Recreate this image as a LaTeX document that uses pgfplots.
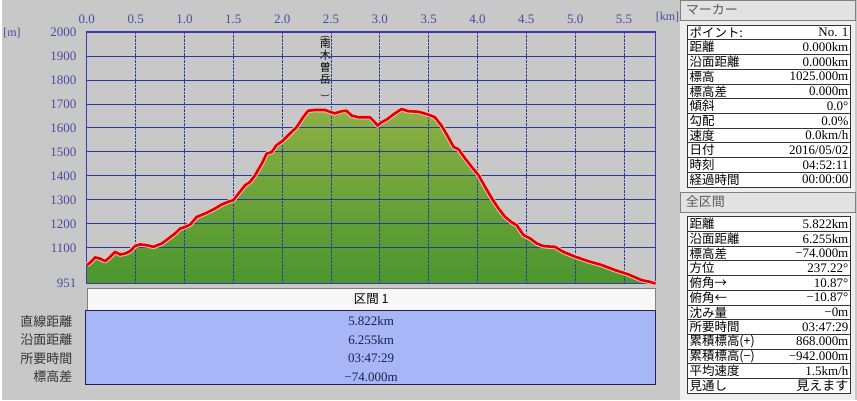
\documentclass[border=0pt]{standalone}
\usepackage{pgfplots}
\pgfplotsset{compat=1.18}
\usepackage{pgfplotstable}
\usepackage{fontspec}
\setmainfont{Liberation Serif}
\newfontfamily\jp{Noto Sans CJK JP}

\definecolor{bg}{HTML}{C8C8C8}
\definecolor{plotbg}{HTML}{DCDCDC}
\definecolor{gridc}{HTML}{2A3A9C}
\definecolor{framec}{HTML}{3A3AA8}
\definecolor{tickc}{HTML}{4B4BA0}
\definecolor{greentop}{HTML}{8DB045}
\definecolor{greenbot}{HTML}{4A962E}
\definecolor{redline}{HTML}{E00000}
\definecolor{redhalo}{HTML}{FFB8B8}
\definecolor{bluebox}{HTML}{A6B6F6}
\definecolor{valc}{HTML}{202048}
\definecolor{cellb}{HTML}{333333}
\definecolor{panelbg}{HTML}{EEEEEE}
\definecolor{headbg}{HTML}{E2E2E2}

\pgfplotstableread{
km elev
0.000 1028
0.040 1040
0.085 1060
0.136 1055
0.188 1044
0.239 1062
0.290 1083
0.341 1072
0.392 1076
0.444 1086
0.495 1108
0.546 1114
0.614 1111
0.682 1104
0.768 1118
0.836 1139
0.904 1160
0.955 1180
1.006 1187
1.058 1197
1.126 1229
1.211 1243
1.314 1264
1.382 1281
1.450 1292
1.501 1299
1.552 1326
1.621 1361
1.672 1375
1.723 1403
1.791 1451
1.842 1493
1.894 1500
1.942 1528
2.010 1548
2.078 1576
2.147 1603
2.215 1645
2.266 1672
2.334 1675
2.437 1675
2.498 1666
2.539 1661
2.608 1670
2.659 1672
2.710 1652
2.778 1645
2.898 1645
2.949 1624
2.976 1610
3.017 1624
3.068 1634
3.137 1656
3.222 1679
3.290 1670
3.392 1668
3.495 1656
3.563 1645
3.631 1610
3.703 1560
3.755 1521
3.806 1511
3.874 1472
3.942 1437
4.010 1403
4.078 1354
4.147 1306
4.215 1264
4.283 1229
4.351 1206
4.402 1194
4.470 1153
4.539 1139
4.607 1118
4.675 1107
4.794 1104
4.879 1083
4.999 1063
5.135 1044
5.272 1028
5.408 1007
5.544 989
5.681 965
5.766 958
5.822 951
}\profile

\newcommand{\trow}[4]{%
  \pgfmathsetmacro\ytop{#1-#2*14.75}%
  \pgfmathsetmacro\ybot{\ytop-14.75}%
  \pgfmathsetmacro\ymid{\ytop-7.375}%
  \draw[cellb, fill=white, line width=0.8pt] (687,\ytop) rectangle (850,\ybot);
  \node[anchor=west, inner sep=0pt, font=\jp\fontsize{12.5}{12.5}\selectfont] at (689,\ymid) {#3};
  \node[anchor=east, inner sep=0pt, font=\fontsize{13}{13}\selectfont] at (848.5,\ymid) {#4};
}

\begin{document}
\begin{tikzpicture}
\fill[bg] (0pt,0pt) rectangle (857pt,401pt);

\begin{axis}[
  set layers, axis on top,
  at={(85pt,117pt)}, anchor=south west,
  scale only axis, width=570pt, height=252pt,
  xmin=0, xmax=5.822, ymin=951, ymax=2000,
  xtick={0,0.5,1,1.5,2,2.5,3,3.5,4,4.5,5,5.5},
  xticklabels={0.0,0.5,1.0,1.5,2.0,2.5,3.0,3.5,4.0,4.5,5.0,5.5},
  xticklabel pos=upper,
  ytick={951,1100,1200,1300,1400,1500,1600,1700,1800,1900,2000},
  yticklabels={951,1100,1200,1300,1400,1500,1600,1700,1800,1900,2000},
  major tick length=0pt,
  xmajorgrids, ymajorgrids,
  x grid style={densely dotted, gridc, line width=0.9pt},
  y grid style={gridc, line width=1pt},
  axis line style={framec, line width=1.4pt},
  ticklabel style={text=tickc, font=\fontsize{13}{13}\selectfont},
  xticklabel style={yshift=5pt},
  yticklabel style={xshift=-7pt},
  axis background/.style={fill=plotbg},
]
\addplot[draw=none, top color=greentop, bottom color=greenbot] table[x=km,y=elev]{\profile} \closedcycle;
\addplot[on layer=axis foreground, draw=redhalo, line width=4.6pt, line join=round] table[x=km,y=elev]{\profile};
\addplot[on layer=axis foreground, draw=redline, line width=2.6pt, line join=round] table[x=km,y=elev]{\profile};
\end{axis}

\begin{scope}[x=1pt,y=1pt]
% units
\node[text=tickc, font=\fontsize{12}{12}\selectfont] at (10,368) {[m]};
\node[text=tickc, font=\fontsize{12}{12}\selectfont] at (667,384) {[km]};

% peak label
\node[align=center, inner sep=0pt, font=\jp\fontsize{11}{12}\selectfont] at (324,334.5) {\rotatebox{-90}{\fontsize{9}{9}\selectfont(}\\[-1pt]南\\木\\曽\\岳\\[-1pt]\rotatebox{-90}{\fontsize{9}{9}\selectfont)}};

% bottom section
\draw[draw=gray, fill=white!94!gray] (85,90) rectangle (655,112);
\node[font=\jp\fontsize{12.5}{12.5}\selectfont] at (370,101) {区間 1};
\draw[draw=valc, fill=bluebox, line width=0.8pt] (84,16) rectangle (655,90);
\node[text=valc, font=\fontsize{13}{13}\selectfont] at (370,79) {5.822km};
\node[text=valc, font=\fontsize{13}{13}\selectfont] at (370,60.5) {6.255km};
\node[text=valc, font=\fontsize{13}{13}\selectfont] at (370,42) {03:47:29};
\node[text=valc, font=\fontsize{13}{13}\selectfont] at (370,23.5) {−74.000m};
\node[anchor=east, text=black!80, font=\jp\fontsize{13}{13}\selectfont] at (74,79) {直線距離};
\node[anchor=east, text=black!80, font=\jp\fontsize{13}{13}\selectfont] at (74,60.5) {沿面距離};
\node[anchor=east, text=black!80, font=\jp\fontsize{13}{13}\selectfont] at (74,42) {所要時間};
\node[anchor=east, text=black!80, font=\jp\fontsize{13}{13}\selectfont] at (74,23.5) {標高差};

% right panel
\fill[panelbg] (680,0) rectangle (855,401);
\draw[draw=gray, fill=headbg] (680,381) rectangle (855,401);
\node[anchor=west, text=black!65, font=\jp\fontsize{13}{13}\selectfont] at (682,391) {マーカー};
\draw[draw=gray, fill=headbg] (680,189) rectangle (855,209);
\node[anchor=west, text=black!65, font=\jp\fontsize{13}{13}\selectfont] at (682,199) {全区間};

\trow{376}{0}{ポイント:}{No. 1}
\trow{376}{1}{距離}{0.000km}
\trow{376}{2}{沿面距離}{0.000km}
\trow{376}{3}{標高}{1025.000m}
\trow{376}{4}{標高差}{0.000m}
\trow{376}{5}{傾斜}{0.0°}
\trow{376}{6}{勾配}{0.0\%}
\trow{376}{7}{速度}{0.0km/h}
\trow{376}{8}{日付}{2016/05/02}
\trow{376}{9}{時刻}{04:52:11}
\trow{376}{10}{経過時間}{00:00:00}

\trow{184}{0}{距離}{5.822km}
\trow{184}{1}{沿面距離}{6.255km}
\trow{184}{2}{標高差}{−74.000m}
\trow{184}{3}{方位}{237.22°}
\trow{184}{4}{俯角→}{10.87°}
\trow{184}{5}{俯角←}{−10.87°}
\trow{184}{6}{沈み量}{−0m}
\trow{184}{7}{所要時間}{03:47:29}
\trow{184}{8}{累積標高(+)}{868.000m}
\trow{184}{9}{累積標高(−)}{−942.000m}
\trow{184}{10}{平均速度}{1.5km/h}
\trow{184}{11}{見通し}{{\jp 見えます}}
\end{scope}
\end{tikzpicture}
\end{document}
